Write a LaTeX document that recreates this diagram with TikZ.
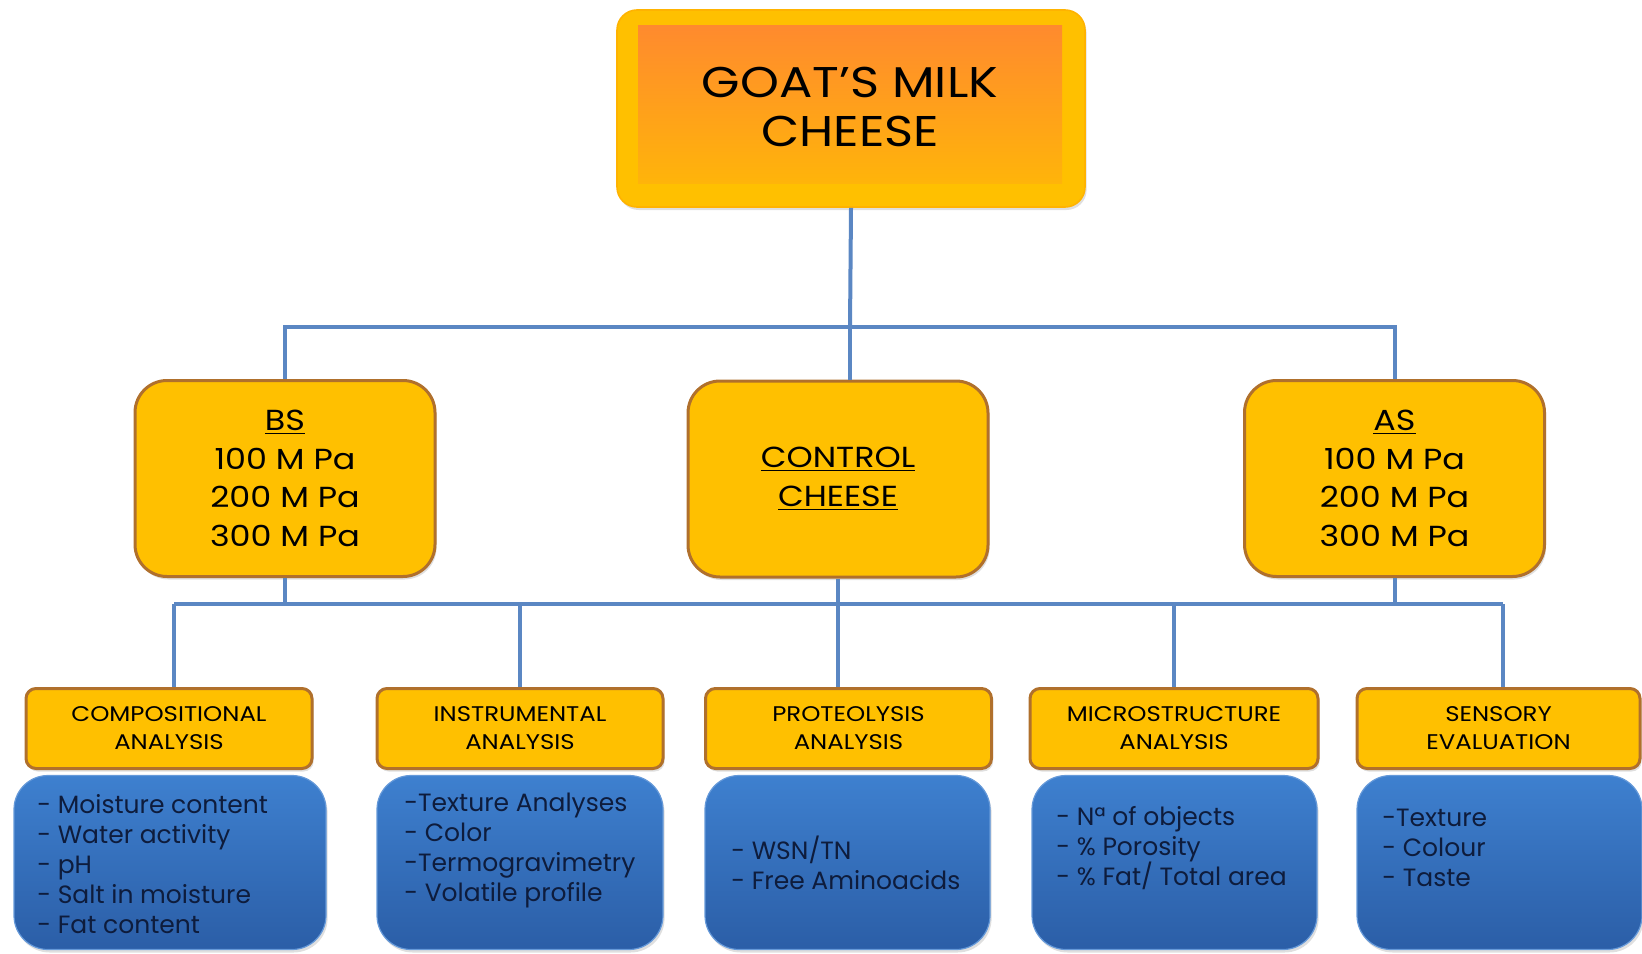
\documentclass[tikz,border=0pt]{standalone}
\usepackage{fontspec}
\setmainfont{Poppins}
\newfontfamily\widefont[FakeStretch=1.15]{Poppins}
\usetikzlibrary{shadows}
\definecolor{gold}{HTML}{FFC000}
\definecolor{brownb}{HTML}{B0702C}
\definecolor{connc}{HTML}{5B87C3}
\definecolor{bluetop}{HTML}{3E80CF}
\definecolor{bluebot}{HTML}{2B5EA7}
\definecolor{navy}{HTML}{0E1C3C}
\definecolor{orangetop}{HTML}{FF8A2E}
\definecolor{orangebot}{HTML}{FFB40A}
\begin{document}
\begin{tikzpicture}[x=0.5pt,y=-0.5pt,
  connector/.style={draw=connc, line width=2pt},
  shad/.style={drop shadow={opacity=0.25, shadow xshift=0.8pt, shadow yshift=-1.5pt}},
  titlebox/.style={fill=gold, draw=gold!80!orange, line width=0.8pt, rounded corners=10pt, minimum width=234pt, minimum height=98.5pt, inner sep=0pt, shad},
  titleinner/.style={top color=orangetop, bottom color=orangebot, draw=none, minimum width=212pt, minimum height=79pt, inner sep=0pt},
  midbox/.style={draw=brownb, line width=1.5pt, fill=gold, rounded corners=16pt, minimum width=150pt, minimum height=98pt, inner sep=0pt, align=center, font=\widefont\fontsize{14.5}{19.3}\selectfont, shad},
  headbox/.style={draw=brownb, line width=1.5pt, fill=gold, rounded corners=5pt, minimum height=40pt, inner sep=0pt, align=center, font=\widefont\fontsize{10.6}{14}\selectfont, shad},
  bluebox/.style={top color=bluetop, bottom color=bluebot, draw=bluetop!80!white, line width=0.6pt, rounded corners=17pt, minimum height=87pt, inner sep=0pt, shad},
  bluetext/.style={anchor=west, align=left, inner sep=0pt, text=navy, font=\fontsize{12.5}{15}\selectfont}
]
\useasboundingbox (0,0) rectangle (1642,953);

% title
\node[titlebox] (top) at (851,108.5) {};
\node[titleinner] (topin) at (850,104) {};
\node[align=center, inner sep=0pt, font=\widefont\fontsize{21.5}{24.5}\selectfont] (toptext) at (850,107) {GOAT’S MILK\\CHEESE};

% middle level
\node[midbox] (bs) at (285,478.5) {\underline{BS}\\100 M Pa\\200 M Pa\\300 M Pa};
\node[midbox] (ctrl) at (838,479) {\underline{CONTROL}\\\underline{CHEESE}};
\node[midbox] (as) at (1394.5,478.5) {\underline{AS}\\100 M Pa\\200 M Pa\\300 M Pa};

% header boxes
\node[headbox, minimum width=143pt] (comp) at (169,728.5) {COMPOSITIONAL\\ANALYSIS};
\node[headbox, minimum width=143pt] (instr) at (520,728.5) {INSTRUMENTAL\\ANALYSIS};
\node[headbox, minimum width=143pt] (prot) at (848.5,728.5) {PROTEOLYSIS\\ANALYSIS};
\node[headbox, minimum width=144pt] (micro) at (1174,728.5) {MICROSTRUCTURE\\ANALYSIS};
\node[headbox, minimum width=141.5pt] (sens) at (1498.5,728.5) {SENSORY\\EVALUATION};

% blue boxes
\node[bluebox, minimum width=156pt] (compb) at (170,862.5) {};
\node[bluebox, minimum width=143pt] (instrb) at (520,862.5) {};
\node[bluebox, minimum width=142.5pt] (protb) at (847.5,862.5) {};
\node[bluebox, minimum width=142.5pt] (microb) at (1174.5,862.5) {};
\node[bluebox, minimum width=142.5pt] (sensb) at (1499.5,862.5) {};

\node[bluetext] (compt) at (37,864) {- Moisture content\\- Water activity\\- pH\\- Salt in moisture\\- Fat content};
\node[bluetext] (instrt) at (404,850) {-Texture Analyses\\- Color\\-Termogravimetry\\- Volatile profile};
\node[bluetext] (prott) at (731,863) {- WSN/TN\\- Free Aminoacids};
\node[bluetext] (microt) at (1056,848) {- Nª of objects\\- \% Porosity\\- \% Fat/ Total area};
\node[bluetext] (senst) at (1382,848) {-Texture\\- Colour\\- Taste};

% connectors
\coordinate (b1) at (850,327);
\coordinate (b2) at (838,604);
\coordinate (l2) at (174,604);
\coordinate (r2) at (1503,604);
\draw[connector] (top.south) -- (b1);
\draw[connector] (bs.north) |- (b1) -| (as.north);
\draw[connector] (b1) -- (b1 |- ctrl.north);
\draw[connector] (l2) -- (r2);
\draw[connector] (bs.south) -- (bs.south |- b2);
\draw[connector] (ctrl.south) -- (b2);
\draw[connector] (as.south) -- (as.south |- b2);
\draw[connector] (l2) -- (l2 |- comp.north);
\draw[connector] (b2 -| instr.north) -- (instr.north);
\draw[connector] (b2) -- (b2 |- prot.north);
\draw[connector] (b2 -| micro.north) -- (micro.north);
\draw[connector] (r2) -- (r2 |- sens.north);
\end{tikzpicture}
\end{document}
